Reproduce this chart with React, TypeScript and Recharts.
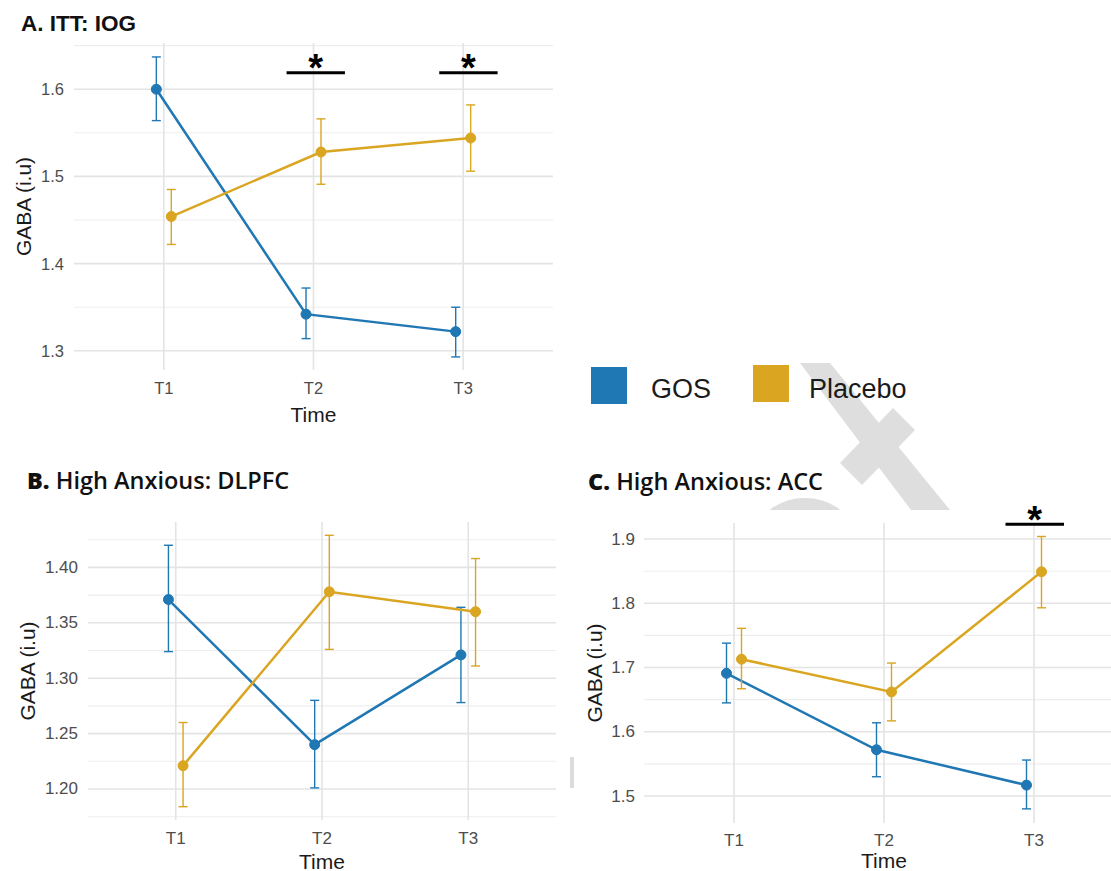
import { LineChart, Line, XAxis, YAxis, CartesianGrid, ErrorBar, ReferenceLine, ReferenceDot } from 'recharts';

const BLUE = '#1f77b4';
const GOLD = '#daa520';
const AXIS_FONT = '"Liberation Sans", Arial, sans-serif';
const TITLE_FONT = '"Open Sans", "Liberation Sans", Arial, sans-serif';

const timePoints = [1, 2, 3];
const timeLabels = ['T1', 'T2', 'T3'];
const DODGE = 0.05;

// A. ITT: IOG
const ittGosMean = [1.6, 1.342, 1.322];
const ittGosLow = [1.564, 1.314, 1.293];
const ittGosHigh = [1.637, 1.372, 1.35];
const ittPlaMean = [1.454, 1.528, 1.544];
const ittPlaLow = [1.422, 1.491, 1.506];
const ittPlaHigh = [1.485, 1.566, 1.582];
const ittMajor = [1.3, 1.4, 1.5, 1.6];
const ittMinor = [1.35, 1.45, 1.55, 1.65];
const ittSig = [
  { from: 1.82, to: 2.21, y: 1.619, starY: 1.633 },
  { from: 2.84, to: 3.23, y: 1.619, starY: 1.633 },
];

// B. High Anxious: DLPFC
const dlGosMean = [1.371, 1.24, 1.321];
const dlGosLow = [1.324, 1.201, 1.278];
const dlGosHigh = [1.42, 1.28, 1.364];
const dlPlaMean = [1.221, 1.378, 1.36];
const dlPlaLow = [1.184, 1.326, 1.311];
const dlPlaHigh = [1.26, 1.429, 1.408];
const dlMajor = [1.2, 1.25, 1.3, 1.35, 1.4];
const dlMinor = [1.175, 1.225, 1.275, 1.325, 1.375, 1.425];

// C. High Anxious: ACC
const accGosMean = [1.691, 1.572, 1.517];
const accGosLow = [1.645, 1.53, 1.48];
const accGosHigh = [1.738, 1.614, 1.556];
const accPlaMean = [1.713, 1.662, 1.849];
const accPlaLow = [1.667, 1.617, 1.793];
const accPlaHigh = [1.761, 1.707, 1.904];
const accMajor = [1.5, 1.6, 1.7, 1.8, 1.9];
const accMinor = [1.55, 1.65, 1.75, 1.85];
const accSig = [{ from: 2.81, to: 3.2, y: 1.923, starY: 1.942 }];

type Pt = { x: number; y: number; err: [number, number] };

function buildSeries(mean: number[], low: number[], high: number[], shift: number): Pt[] {
  return timePoints.map((t, i) => ({
    x: t + shift,
    y: mean[i],
    err: [mean[i] - low[i], high[i] - mean[i]],
  }));
}

interface PanelProps {
  left: number;
  top: number;
  width: number;
  height: number;
  margin: { top: number; right: number; bottom: number; left: number };
  gos: Pt[];
  placebo: Pt[];
  domain: [number, number];
  major: number[];
  minor: number[];
  decimals: number;
  sig: { from: number; to: number; y: number; starY: number }[];
  tickFont: number;
  xTickDy: number;
  yTickGap: number;
  timeDy: number;
  yLabelDx: number;
}

// axes need a non-zero size or recharts skips them, so they get 1px
function Panel(p: PanelProps) {
  const isMajor = (v: number) => p.major.some((m) => Math.abs(m - v) < 1e-6);
  const m = { ...p.margin, left: p.margin.left - 1, bottom: p.margin.bottom - 1 };
  return (
    <div style={{ position: 'absolute', left: p.left, top: p.top }}>
      <LineChart width={p.width} height={p.height} margin={m}>
        <CartesianGrid stroke="#eeeeee" strokeWidth={1.1} vertical={false} horizontalValues={p.minor} />
        <CartesianGrid stroke="#e4e4e4" strokeWidth={1.6} horizontalValues={p.major} verticalValues={timePoints} />
        <XAxis
          dataKey="x"
          type="number"
          domain={[0.4, 3.6]}
          ticks={timePoints}
          allowDataOverflow
          height={1}
          axisLine={false}
          tickLine={false}
          tickSize={0}
          tickMargin={0}
          tick={(t: any) => (
            <text
              x={t.x}
              y={t.y + p.xTickDy}
              textAnchor="middle"
              dominantBaseline="central"
              fontSize={p.tickFont}
              fontFamily={AXIS_FONT}
              fill="#4d4d4d"
            >
              {timeLabels[timePoints.indexOf(t.payload.value)]}
            </text>
          )}
          label={(l: any) => (
            <text
              x={l.viewBox.x + l.viewBox.width / 2}
              y={l.viewBox.y + p.timeDy}
              textAnchor="middle"
              dominantBaseline="central"
              fontSize={21}
              fontFamily={AXIS_FONT}
              fill="#1a1a1a"
            >
              Time
            </text>
          )}
        />
        <YAxis
          type="number"
          domain={p.domain}
          allowDataOverflow
          ticks={[...p.major, ...p.minor].sort((a, b) => a - b)}
          width={1}
          axisLine={false}
          tickLine={false}
          tickSize={0}
          tickMargin={0}
          tick={(t: any) =>
            isMajor(t.payload.value) ? (
              <text
                x={t.x - p.yTickGap}
                y={t.y}
                textAnchor="end"
                dominantBaseline="central"
                fontSize={p.tickFont}
                fontFamily={AXIS_FONT}
                fill="#4d4d4d"
              >
                {Number(t.payload.value).toFixed(p.decimals)}
              </text>
            ) : (
              <g />
            )
          }
          label={(l: any) => {
            const cx = l.viewBox.x + 1 + p.yLabelDx;
            const cy = l.viewBox.y + l.viewBox.height / 2;
            return (
              <text
                x={cx}
                y={cy}
                transform={`rotate(-90 ${cx} ${cy})`}
                textAnchor="middle"
                dominantBaseline="central"
                fontSize={21}
                fontFamily={AXIS_FONT}
                fill="#1a1a1a"
              >
                GABA (i.u)
              </text>
            );
          }}
        />
        <Line
          data={p.gos}
          dataKey="y"
          stroke={BLUE}
          strokeWidth={2.5}
          dot={{ r: 5, fill: BLUE, stroke: BLUE, strokeWidth: 1 }}
          activeDot={false}
          isAnimationActive={false}
        >
          <ErrorBar dataKey="err" direction="y" width={4.5} stroke={BLUE} strokeWidth={1.4} isAnimationActive={false} />
        </Line>
        <Line
          data={p.placebo}
          dataKey="y"
          stroke={GOLD}
          strokeWidth={2.5}
          dot={{ r: 5, fill: GOLD, stroke: GOLD, strokeWidth: 1 }}
          activeDot={false}
          isAnimationActive={false}
        >
          <ErrorBar dataKey="err" direction="y" width={4.5} stroke={GOLD} strokeWidth={1.4} isAnimationActive={false} />
        </Line>
        {p.sig.map((s, i) => (
          <ReferenceLine
            key={`bar${i}`}
            segment={[
              { x: s.from, y: s.y },
              { x: s.to, y: s.y },
            ]}
            stroke="#000"
            strokeWidth={3}
            ifOverflow="visible"
          />
        ))}
        {p.sig.map((s, i) => (
          <ReferenceDot
            key={`star${i}`}
            x={(s.from + s.to) / 2}
            y={s.starY}
            r={1}
            fill="none"
            stroke="none"
            ifOverflow="visible"
            label={(l: any) => (
              <text
                x={l.viewBox.x + l.viewBox.width / 2}
                y={l.viewBox.y + l.viewBox.height / 2 + 0.55 * 38}
                textAnchor="middle"
                fontSize={38}
                fontWeight={700}
                fontFamily={AXIS_FONT}
                fill="#000"
              >
                *
              </text>
            )}
          />
        ))}
      </LineChart>
    </div>
  );
}

export default function App() {
  return (
    <div
      style={{
        position: 'absolute',
        left: 0,
        top: 0,
        width: 1111,
        height: 871,
        background: '#fff',
        overflow: 'hidden',
      }}
    >
      <svg width={1111} height={871} style={{ position: 'absolute', left: 0, top: 0 }}>
        <defs>
          <clipPath id="wm">
            <rect x={560} y={363} width={551} height={147} />
          </clipPath>
        </defs>
        <g clipPath="url(#wm)" fill="#dedede">
          <polygon points="800,363 830,363 950,510 911,510" />
          <polygon points="893,408 915,430 862,485 840,463" />
          <ellipse cx={805} cy={530} rx={45} ry={32} />
        </g>
        <rect x={570} y={757} width={4} height={31} fill="#dcdcdc" />
      </svg>

      <Panel
        left={0}
        top={0}
        width={570}
        height={440}
        margin={{ top: 43, right: 17, bottom: 70, left: 74 }}
        gos={buildSeries(ittGosMean, ittGosLow, ittGosHigh, -DODGE)}
        placebo={buildSeries(ittPlaMean, ittPlaLow, ittPlaHigh, DODGE)}
        domain={[1.278, 1.653]}
        major={ittMajor}
        minor={ittMinor}
        decimals={1}
        sig={ittSig}
        tickFont={16.5}
        xTickDy={18}
        yTickGap={10}
        timeDy={44}
        yLabelDx={-51}
      />
      <Panel
        left={0}
        top={460}
        width={570}
        height={411}
        margin={{ top: 62, right: 14, bottom: 51, left: 88 }}
        gos={buildSeries(dlGosMean, dlGosLow, dlGosHigh, -DODGE)}
        placebo={buildSeries(dlPlaMean, dlPlaLow, dlPlaHigh, DODGE)}
        domain={[1.172, 1.441]}
        major={dlMajor}
        minor={dlMinor}
        decimals={2}
        sig={[]}
        tickFont={17}
        xTickDy={18}
        yTickGap={10}
        timeDy={41}
        yLabelDx={-61}
      />
      <Panel
        left={560}
        top={460}
        width={580}
        height={411}
        margin={{ top: 63, right: 16, bottom: 48, left: 84 }}
        gos={buildSeries(accGosMean, accGosLow, accGosHigh, -DODGE)}
        placebo={buildSeries(accPlaMean, accPlaLow, accPlaHigh, DODGE)}
        domain={[1.458, 1.925]}
        major={accMajor}
        minor={accMinor}
        decimals={1}
        sig={accSig}
        tickFont={17}
        xTickDy={17}
        yTickGap={9}
        timeDy={37}
        yLabelDx={-50}
      />

      <svg width={1111} height={871} style={{ position: 'absolute', left: 0, top: 0, pointerEvents: 'none' }}>
        <text x={21} y={31} fontSize={22.5} fontWeight={700} fontFamily={AXIS_FONT} fill="#111">
          A. ITT: IOG
        </text>
        <text x={27} y={489} fontSize={23.5} fontFamily={TITLE_FONT} fill="#111">
          <tspan fontWeight={800}>B.</tspan>
          <tspan fontWeight={600}> High Anxious: DLPFC</tspan>
        </text>
        <text x={588} y={490} fontSize={23.5} fontFamily={TITLE_FONT} fill="#111">
          <tspan fontWeight={800}>C.</tspan>
          <tspan fontWeight={600}> High Anxious: ACC</tspan>
        </text>

        <rect x={591} y={367} width={36} height={37} fill={BLUE} />
        <text x={651} y={398} fontSize={27} fontFamily={AXIS_FONT} fill="#1a1a1a">
          GOS
        </text>
        <rect x={753} y={365} width={36} height={37} fill={GOLD} />
        <text x={809} y={398} fontSize={27} fontFamily={AXIS_FONT} fill="#1a1a1a">
          Placebo
        </text>
      </svg>
    </div>
  );
}
